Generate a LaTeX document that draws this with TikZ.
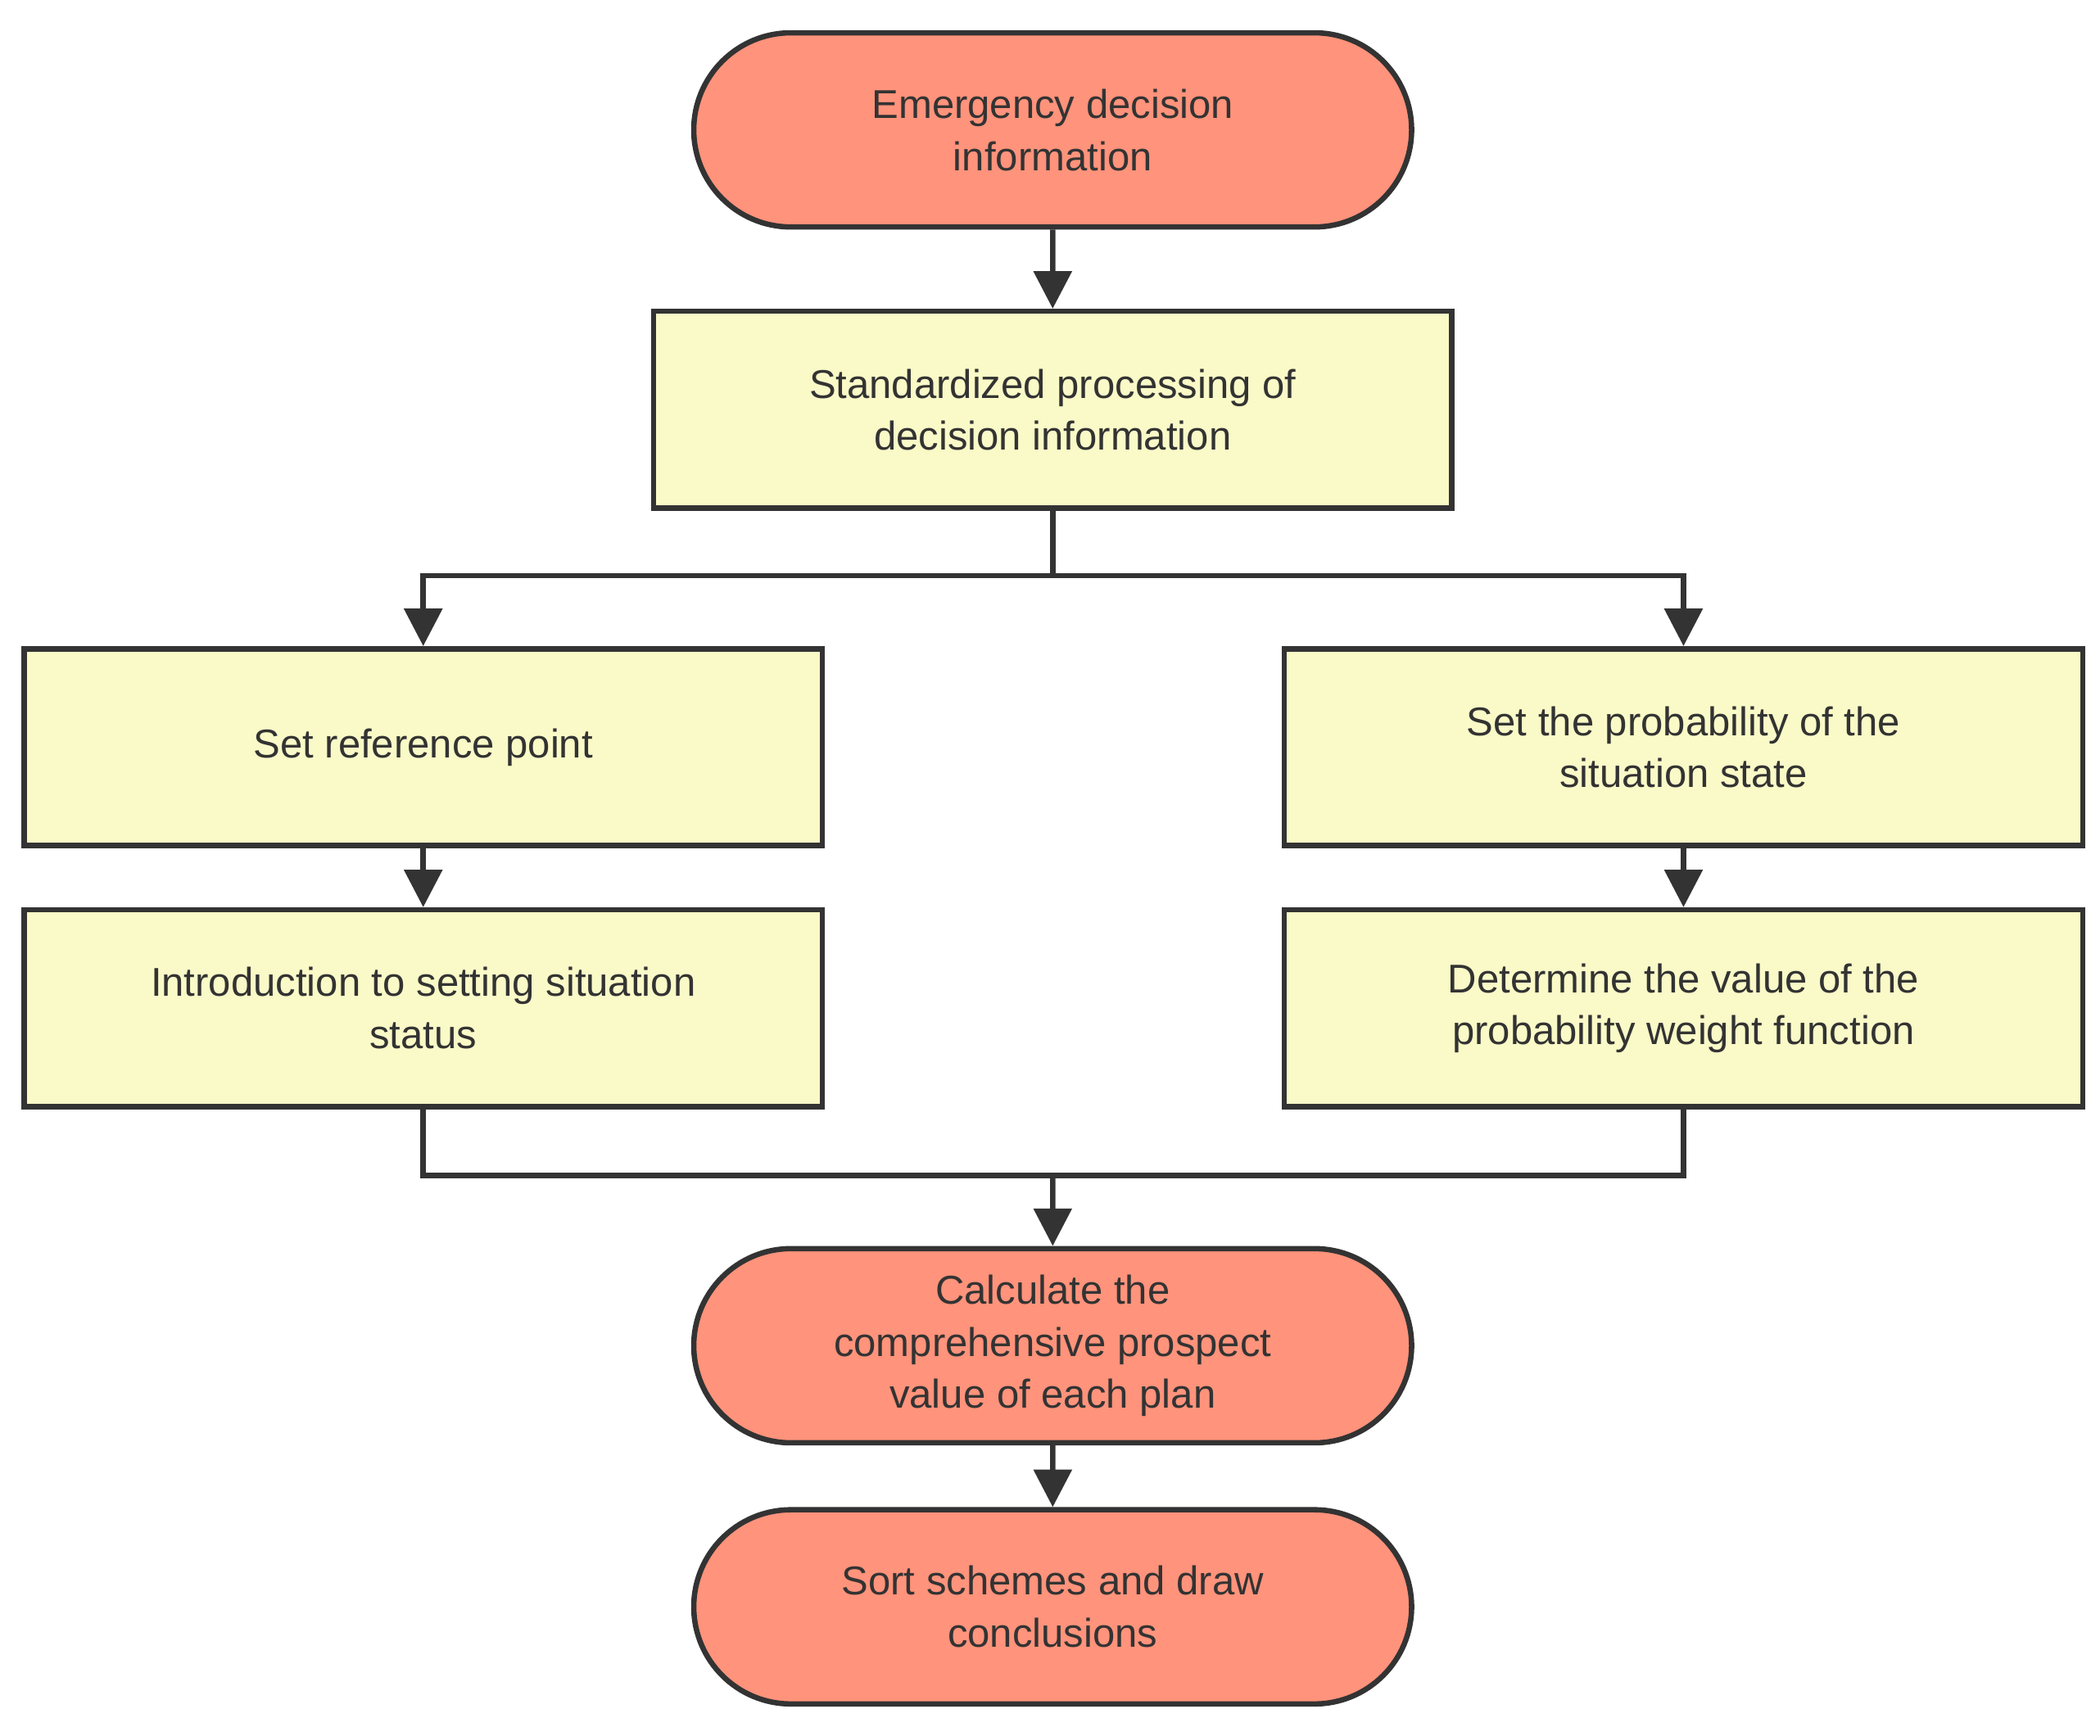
\documentclass[tikz,border=0pt]{standalone}
\usepackage{fontspec}
\setmainfont{Liberation Sans}
\usetikzlibrary{arrows.meta,shapes.misc}
\definecolor{salmon}{HTML}{FF937B}
\definecolor{pale}{HTML}{FAFAC8}
\definecolor{ink}{HTML}{333333}
\begin{document}
\begin{tikzpicture}[x=0.5pt,y=-0.5pt,
  txt/.style={text=ink,align=center,font=\fontsize{15}{19.5}\selectfont},
  term/.style={txt,rounded rectangle,fill=salmon,draw=ink,line width=2pt,minimum width=268pt,minimum height=72.5pt,inner sep=0pt},
  box/.style={txt,rectangle,fill=pale,draw=ink,line width=2pt,minimum width=298pt,minimum height=73.5pt,inner sep=0pt},
  arr/.style={draw=ink,line width=2pt,-{Triangle[length=14pt,width=14pt]}},
  ln/.style={draw=ink,line width=2pt}]
\useasboundingbox (0,0) rectangle (1568,1296);
\node[term] (a) at (786,97) {Emergency decision\\information};
\node[box] (b) at (786,306) {Standardized processing of\\decision information};
\node[box] (l1) at (316,558) {Set reference point};
\node[box] (l2) at (316,753) {Introduction to setting situation\\status};
\node[box] (r1) at (1257,558) {Set the probability of the\\situation state};
\node[box] (r2) at (1257,753) {Determine the value of the\\probability weight function};
\node[term] (c) at (786,1005) {Calculate the\\comprehensive prospect\\value of each plan};
\node[term] (d) at (786,1200) {Sort schemes and draw\\conclusions};
\coordinate (s) at (786,430);
\coordinate (m) at (786,878);
\draw[arr] (a) -- (b);
\draw[ln] (b) -- (s);
\draw[arr] (s) -| (l1);
\draw[arr] (s) -| (r1);
\draw[arr] (l1) -- (l2);
\draw[arr] (r1) -- (r2);
\draw[ln] (l2) |- (m);
\draw[ln] (r2) |- (m);
\draw[arr] (m) -- (c);
\draw[arr] (c) -- (d);
\end{tikzpicture}
\end{document}
